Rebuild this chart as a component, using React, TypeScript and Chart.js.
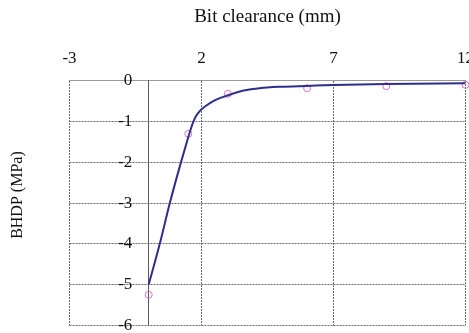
import React, { useEffect, useRef } from "react";
import { Chart, registerables } from "chart.js";

Chart.register(...registerables);

// Measured bottom-hole differential pressure vs. bit clearance
const measuredClearance = [0, 1.5, 3, 6, 9, 12];
const measuredBHDP = [-5.25, -1.3, -0.32, -0.18, -0.13, -0.1];

// Fitted trend curve
const fitClearance = [0, 0.4, 0.8, 1.2, 1.5, 1.6, 1.7, 1.8, 1.9, 2.0, 2.2, 2.5, 2.8, 3.2, 3.6, 4.2, 5, 6, 7, 9, 12];
const fitBHDP = [-5.0, -4.05, -3.0, -2.05, -1.38, -1.17, -0.99, -0.86, -0.77, -0.7, -0.6, -0.48, -0.4, -0.31, -0.24, -0.18, -0.145, -0.125, -0.105, -0.08, -0.06];

const xTicks = [-3, 2, 7, 12];
const yTicks = [-6, -5, -4, -3, -2, -1, 0];

const SERIF = '"Liberation Serif", "Times New Roman", serif';
const GRID = "#6a6a6a";
const DOTS = [2, 1];

const yTitlePlugin = {
  id: "yTitle",
  afterDraw(chart: any) {
    const { ctx, chartArea } = chart;
    ctx.save();
    ctx.translate(18, (chartArea.top + chartArea.bottom) / 2 - 8);
    ctx.rotate(-Math.PI / 2);
    ctx.font = `16px ${SERIF}`;
    ctx.fillStyle = "#111";
    ctx.textAlign = "center";
    ctx.textBaseline = "middle";
    ctx.fillText("BHDP (MPa)", 0, 0);
    ctx.restore();
  },
};

const setTicks = (values: number[]) => (scale: any) => {
  scale.ticks = values.map((v) => ({ value: v }));
};

export default function App() {
  const canvasRef = useRef<HTMLCanvasElement | null>(null);

  useEffect(() => {
    document.body.style.margin = "0";
    const canvas = canvasRef.current;
    if (!canvas) return;

    const chart = new Chart(canvas, {
      type: "scatter",
      data: {
        datasets: [
          {
            label: "Measured",
            data: measuredClearance.map((x, i) => ({ x, y: measuredBHDP[i] })),
            pointStyle: "circle",
            pointRadius: 3.5,
            pointBorderWidth: 1,
            borderColor: "#e070c8",
            backgroundColor: "rgba(0,0,0,0)",
            showLine: false,
            clip: false,
            order: 2,
          },
          {
            label: "Fit",
            data: fitClearance.map((x, i) => ({ x, y: fitBHDP[i] })),
            showLine: true,
            pointRadius: 0,
            borderColor: "#2e2e8c",
            borderWidth: 2,
            cubicInterpolationMode: "monotone",
            fill: false,
            order: 1,
          },
        ],
      },
      options: {
        responsive: false,
        animation: false,
        devicePixelRatio: 1,
        layout: { padding: { left: 69.5, right: 0, top: 0, bottom: 7.3 } },
        plugins: {
          legend: { display: false },
          tooltip: { enabled: false },
        },
        scales: {
          x: {
            type: "linear",
            position: "top",
            min: -3,
            max: 12,
            afterBuildTicks: setTicks(xTicks),
            ticks: {
              font: { family: SERIF, size: 17 },
              color: "#111",
              padding: 12,
            },
            grid: {
              drawTicks: false,
              color: GRID,
              lineWidth: 1,
            },
            border: {
              display: true,
              color: "#9a9a9a",
              width: 1,
              dash: DOTS,
            },
            title: {
              display: true,
              text: "Bit clearance (mm)",
              font: { family: SERIF, size: 19 },
              color: "#111",
              padding: { top: 5.6, bottom: 8 },
            },
          },
          // axis line at zero clearance plus the horizontal grid
          y: {
            type: "linear",
            position: { x: 0 },
            min: -6,
            max: 0,
            afterBuildTicks: setTicks(yTicks),
            ticks: { display: false },
            grid: {
              drawTicks: false,
              color: (c: any) => (c.tick && c.tick.value === 0 ? "rgba(0,0,0,0)" : GRID),
              lineWidth: 1,
            },
            border: {
              display: true,
              color: "#5a5a5a",
              width: 1,
              dash: DOTS,
            },
          },
          // pressure labels, set slightly left of the zero-clearance line
          yLabels: {
            type: "linear",
            position: { x: -0.62 },
            min: -6,
            max: 0,
            afterBuildTicks: setTicks(yTicks),
            ticks: {
              font: { family: SERIF, size: 17, lineHeight: 0.9 },
              color: "#111",
              padding: 0,
            },
            grid: { display: false, drawTicks: false },
            border: { display: false },
          },
        },
      },
      plugins: [yTitlePlugin],
    });

    return () => chart.destroy();
  }, []);

  return (
    <div style={{ width: 469, height: 333, overflow: "hidden", background: "#fff" }}>
      <canvas ref={canvasRef} width={486} height={333} style={{ display: "block" }} />
    </div>
  );
}
